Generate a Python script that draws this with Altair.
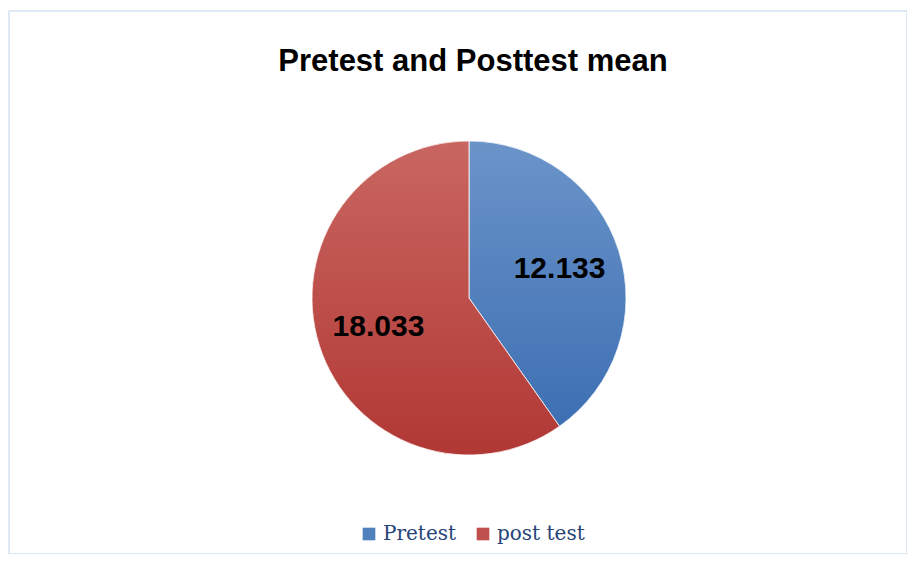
import altair as alt
import pandas as pd

categories = ["Pretest", "post test"]
values = [12.133, 18.033]
labels = ["12.133", "18.033"]
order = [0, 1]

df = pd.DataFrame({"group": categories, "value": values, "label": labels, "idx": order})

legend_colors = ["#4f81bd", "#c0504d"]
blue_grad = {"gradient": "linear", "x1": 0, "y1": 0, "x2": 0, "y2": 1,
             "stops": [{"offset": 0, "color": "#6b94c9"}, {"offset": 1, "color": "#3d6fb3"}]}
red_grad = {"gradient": "linear", "x1": 0, "y1": 0, "x2": 0, "y2": 1,
            "stops": [{"offset": 0, "color": "#c96661"}, {"offset": 1, "color": "#b13834"}]}

PAD_L, PAD_T = 1, 3
CX, CY = 469 - 8 - PAD_L, 298 - 8 - PAD_T
R = 157

base = alt.Chart(df)

theta = alt.Theta("value:Q", stack=True)
ordr = alt.Order("idx:Q")

legend_layer = base.mark_arc(radius=R).encode(
    theta=theta,
    order=ordr,
    x=alt.value(CX),
    y=alt.value(CY),
    color=alt.Color(
        "group:N",
        scale=alt.Scale(domain=categories, range=legend_colors),
        sort=categories,
        legend=alt.Legend(
            orient="none",
            legendX=359 - 8 - PAD_L,
            legendY=524 - 8 - PAD_T,
            direction="horizontal",
            title=None,
            symbolType="square",
            symbolSize=160,
            symbolStrokeWidth=0,
            labelFont="DejaVu Serif",
            labelFontSize=20,
            labelColor="#264478",
            labelOffset=4,
            columnPadding=16,
        ),
    ),
)

grad_layer = base.mark_arc(radius=R, stroke="white", strokeWidth=0.8).encode(
    theta=theta,
    order=ordr,
    x=alt.value(CX),
    y=alt.value(CY),
    fill=alt.condition(alt.datum.group == "Pretest", alt.value(blue_grad), alt.value(red_grad)),
)

text_layer = base.mark_text(
    radius=95, font="Liberation Sans", fontWeight="bold", fontSize=30, color="black"
).encode(
    theta=theta,
    order=ordr,
    x=alt.value(CX),
    y=alt.value(CY),
    text="label:N",
)

chart = (
    alt.layer(legend_layer, grad_layer, text_layer)
    .properties(
        width=907 - 8 - PAD_L,
        height=554 - 8 - PAD_T,
        autosize=alt.AutoSizeParams(type="none"),
        padding={"left": PAD_L, "top": PAD_T, "right": 0, "bottom": 0},
        title=alt.TitleParams(
            "Pretest and Posttest mean",
            font="Liberation Sans",
            fontSize=31,
            fontWeight="bold",
            color="black",
            anchor="middle",
            baseline="alphabetic",
            offset=-91,
            dx=15,
        ),
    )
    .configure_view(stroke="#d5e1f2", strokeWidth=1.5)
)

chart.save("out.html", embed_options={"renderer": "svg", "actions": False})
